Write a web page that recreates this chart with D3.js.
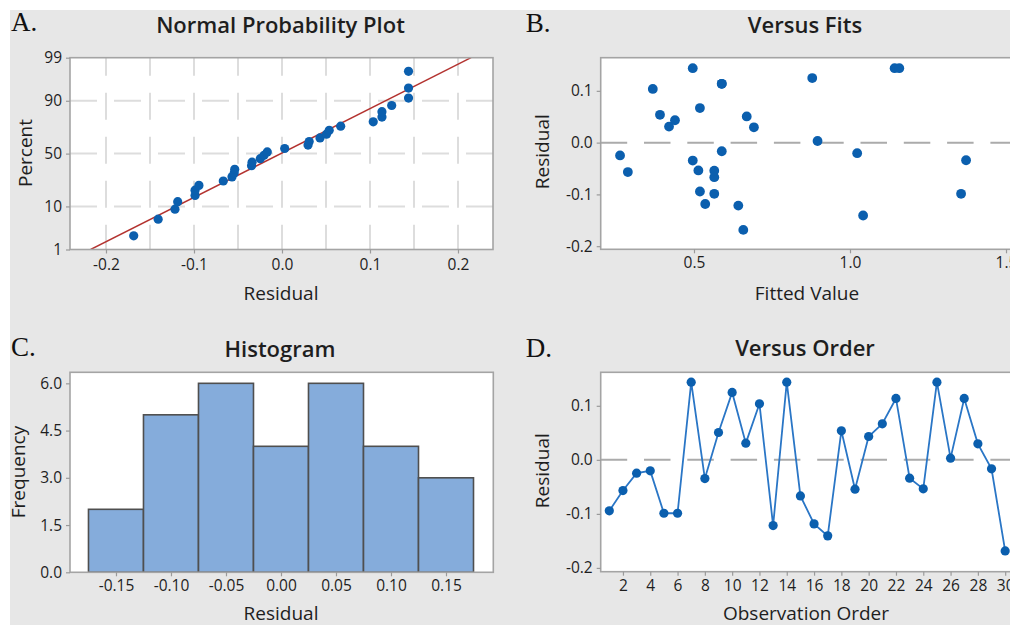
<!DOCTYPE html>
<html>
<head>
<meta charset="utf-8">
<script src="https://cdn.jsdelivr.net/npm/d3@7"></script>
<style>
  body { margin: 0; background: #fff; }
  svg text { font-family: "Open Sans", "Noto Sans", sans-serif; fill: #1e1e1e; }
  .panel-label { font-family: "Liberation Serif", "Times New Roman", serif; }
</style>
</head>
<body>
<svg id="chart" width="1010" height="625"></svg>
<script>
// Residuals in observation order (1..30)
const residuals = [
  -0.0944, -0.0568, -0.0247, -0.0204, -0.0988, -0.0988, 0.1438, -0.0346, 0.0506, 0.1247,
   0.0309,  0.1037, -0.1216,  0.1438, -0.0667, -0.1185, -0.1407, 0.0537, -0.0543, 0.0432,
   0.0667,  0.1136, -0.0340, -0.0537,  0.1438,  0.0031,  0.1136, 0.0296, -0.0167, -0.1685
];
// Fitted value for each observation
const fittedValues = [
  0.519, 0.288, 0.263, 1.023, 0.565, 1.356, 0.496, 0.496, 0.669, 0.879,
  0.420, 0.368, 0.642, 1.143, 0.565, 0.536, 1.042, 0.391, 0.565, 0.439,
  0.519, 0.589, 1.372, 0.514, 1.158, 0.896, 0.589, 0.692, 0.589, 0.658
];
// Histogram of residuals
const binCenters = [-0.15, -0.10, -0.05, 0.00, 0.05, 0.10, 0.15];
const binCounts  = [2, 5, 6, 4, 6, 4, 3];

// Tick values
const percentTicks   = [1, 10, 50, 90, 99];
const percentGrid    = [10, 50, 90];
const residualTicksA = [-0.2, -0.1, 0.0, 0.1, 0.2];
const residualGridA  = [-0.2, -0.15, -0.1, -0.05, 0.0, 0.05, 0.1, 0.15, 0.2];
const residTicksBD   = [-0.2, -0.1, 0.0, 0.1];
const fitTicks       = [0.5, 1.0, 1.5];
const freqTicks      = [0, 1.5, 3.0, 4.5, 6.0];
const histTicks      = [-0.15, -0.10, -0.05, 0.00, 0.05, 0.10, 0.15];
const orderTicks     = [2, 4, 6, 8, 10, 12, 14, 16, 18, 20, 22, 24, 26, 28, 30];

// Inverse standard normal CDF (Acklam's rational approximation)
function probit(p) {
  const a = [-3.969683028665376e+01, 2.209460984245205e+02, -2.759285104469687e+02, 1.383577518672690e+02, -3.066479806614716e+01, 2.506628277459239e+00];
  const b = [-5.447609879822406e+01, 1.615858368580409e+02, -1.556989798598866e+02, 6.680131188771972e+01, -1.328068155288572e+01];
  const c = [-7.784894002430293e-03, -3.223964580411365e-01, -2.400758277161838e+00, -2.549732539343734e+00, 4.374664141464968e+00, 2.938163982698783e+00];
  const d = [7.784695709041462e-03, 3.224671290700398e-01, 2.445134137142996e+00, 3.754408661907416e+00];
  const pl = 0.02425;
  if (p < pl) {
    const q = Math.sqrt(-2 * Math.log(p));
    return (((((c[0]*q+c[1])*q+c[2])*q+c[3])*q+c[4])*q+c[5]) / ((((d[0]*q+d[1])*q+d[2])*q+d[3])*q+1);
  }
  if (p > 1 - pl) {
    const q = Math.sqrt(-2 * Math.log(1 - p));
    return -(((((c[0]*q+c[1])*q+c[2])*q+c[3])*q+c[4])*q+c[5]) / ((((d[0]*q+d[1])*q+d[2])*q+d[3])*q+1);
  }
  const q = p - 0.5, r = q * q;
  return (((((a[0]*r+a[1])*r+a[2])*r+a[3])*r+a[4])*r+a[5])*q / (((((b[0]*r+b[1])*r+b[2])*r+b[3])*r+b[4])*r+1);
}

// Number formats that use a plain hyphen for negatives
const fmt = spec => { const f = d3.format(spec); return d => f(d).replace("\u2212", "-"); };

const svg = d3.select("#chart");
const DOT = "#0b5fae";
const FRAME = "#a4a4a4";

svg.append("rect").attr("x", 10).attr("y", 10).attr("width", 1000).attr("height", 615).attr("fill", "#e7e7e7");

const defs = svg.append("defs");
let clipId = 0;

function frame(x0, x1, y0, y1) {
  const id = "clip" + (clipId++);
  defs.append("clipPath").attr("id", id)
    .append("rect").attr("x", x0).attr("y", y0).attr("width", x1 - x0).attr("height", y1 - y0);
  svg.append("rect").attr("x", x0).attr("y", y0).attr("width", x1 - x0).attr("height", y1 - y0)
    .attr("fill", "#fff");
  return svg.append("g").attr("clip-path", `url(#${id})`);
}
function border(x0, x1, y0, y1) {
  svg.append("rect").attr("x", x0).attr("y", y0).attr("width", x1 - x0).attr("height", y1 - y0)
    .attr("fill", "none").attr("stroke", FRAME).attr("stroke-width", 1.6);
}
function styleAxis(g) {
  g.select(".domain").remove();
  g.selectAll(".tick line").attr("stroke", "#9a9a9a").attr("stroke-width", 1.2);
  g.selectAll(".tick text").attr("fill", "#1e1e1e").style("font-size", "15.5px");
}
function title(text, x, y) {
  svg.append("text").attr("x", x).attr("y", y).attr("text-anchor", "middle")
    .style("font-size", "22px").style("font-weight", 600).text(text);
}
function panelLabel(text, x, y) {
  svg.append("text").attr("class", "panel-label").attr("x", x).attr("y", y)
    .style("font-size", "27px").style("fill", "#111").text(text);
}
function xTitle(text, x, y) {
  svg.append("text").attr("x", x).attr("y", y).attr("text-anchor", "middle")
    .style("font-size", "19px").text(text);
}
function yTitle(text, x, y) {
  svg.append("text").attr("transform", `translate(${x},${y}) rotate(-90)`).attr("text-anchor", "middle")
    .style("font-size", "19px").text(text);
}

// ---------- A. Normal probability plot ----------
{
  const L = 70, R = 493, T = 57.7, B = 249.5;
  const x = d3.scaleLinear().domain([-0.2409, 0.2398]).range([L, R]);
  const y = d3.scaleLinear().domain([probit(0.01), probit(0.99)]).range([B, T]);
  const g = frame(L, R, T, B);

  g.selectAll(".vg").data(residualGridA).join("line")
    .attr("x1", d => x(d)).attr("x2", d => x(d)).attr("y1", T).attr("y2", B)
    .attr("stroke", "#dddddd").attr("stroke-width", 2)
    .attr("stroke-dasharray", "27,17").attr("stroke-dashoffset", 9);
  g.selectAll(".hg").data(percentGrid).join("line")
    .attr("x1", L).attr("x2", R).attr("y1", d => y(probit(d / 100))).attr("y2", d => y(probit(d / 100)))
    .attr("stroke", "#dddddd").attr("stroke-width", 2)
    .attr("stroke-dasharray", "27,17");

  // Fitted normal line
  const mu = d3.mean(residuals), sd = d3.deviation(residuals);
  const zLo = probit(0.01), zHi = probit(0.99);
  g.append("line")
    .attr("x1", x(mu + sd * zLo)).attr("y1", y(zLo))
    .attr("x2", x(mu + sd * zHi)).attr("y2", y(zHi))
    .attr("stroke", "#b3322f").attr("stroke-width", 1.4);

  // Points at median-rank plotting positions
  const n = residuals.length;
  const sorted = residuals.slice().sort(d3.ascending);
  g.selectAll(".pt").data(sorted).join("circle")
    .attr("cx", d => x(d)).attr("cy", (d, i) => y(probit((i + 1 - 0.3) / (n + 0.4))))
    .attr("r", 4.6).attr("fill", DOT);

  border(L, R, T, B);
  svg.append("g").attr("transform", `translate(${L},0)`)
    .call(d3.axisLeft(y).tickValues(percentTicks.map(p => probit(p / 100)))
      .tickFormat((d, i) => percentTicks[i]).tickSize(4).tickPadding(4))
    .call(styleAxis);
  svg.append("g").attr("transform", `translate(0,${B})`)
    .call(d3.axisBottom(x).tickValues(residualTicksA).tickFormat(fmt(".1f")).tickSize(4).tickPadding(5))
    .call(styleAxis);

  title("Normal Probability Plot", 280.5, 33.3);
  panelLabel("A.", 11, 30.7);
  xTitle("Residual", 281, 300);
  yTitle("Percent", 31.5, 153);
}

// ---------- B. Versus fits ----------
{
  const L = 600.7, R = 1012, T = 57.7, B = 249.3;
  const x = d3.scaleLinear().domain([0.2010, 1.5192]).range([L, R]);
  const y = d3.scaleLinear().domain([-0.206, 0.164]).range([B, T]);
  const g = frame(L, R, T, B);

  g.append("line").attr("x1", L).attr("x2", R).attr("y1", y(0)).attr("y2", y(0))
    .attr("stroke", "#ababab").attr("stroke-width", 2).attr("stroke-dasharray", "26.5,16.8");

  g.selectAll(".pt").data(residuals).join("circle")
    .attr("cx", (d, i) => x(fittedValues[i])).attr("cy", d => y(d))
    .attr("r", 4.9).attr("fill", DOT);

  border(L, R, T, B);
  svg.append("g").attr("transform", `translate(${L},0)`)
    .call(d3.axisLeft(y).tickValues(residTicksBD).tickFormat(fmt(".1f")).tickSize(4).tickPadding(4))
    .call(styleAxis);
  svg.append("g").attr("transform", `translate(0,${B})`)
    .call(d3.axisBottom(x).tickValues(fitTicks).tickFormat(fmt(".1f")).tickSize(4).tickPadding(4))
    .call(styleAxis);

  title("Versus Fits", 805, 33.3);
  panelLabel("B.", 525.7, 31.7);
  xTitle("Fitted Value", 807, 300);
  yTitle("Residual", 549, 151.7);
}

// ---------- C. Histogram ----------
{
  const L = 70, R = 493.3, T = 372.3, B = 572.3;
  const x = d3.scaleLinear().domain([-0.1918, 0.1930]).range([L, R]);
  const y = d3.scaleLinear().domain([0, 6.35]).range([B, T]);
  const binWidth = binCenters[1] - binCenters[0];
  const g = frame(L, R, T, B);

  g.selectAll(".bar").data(binCounts).join("rect")
    .attr("x", (d, i) => x(binCenters[i] - binWidth / 2))
    .attr("width", (d, i) => x(binCenters[i] + binWidth / 2) - x(binCenters[i] - binWidth / 2))
    .attr("y", d => y(d)).attr("height", d => y(0) - y(d))
    .attr("fill", "#85acdb").attr("stroke", "#4f4f4f").attr("stroke-width", 1.6);

  border(L, R, T, B);
  svg.append("g").attr("transform", `translate(${L},0)`)
    .call(d3.axisLeft(y).tickValues(freqTicks).tickFormat(fmt(".1f")).tickSize(4).tickPadding(4))
    .call(styleAxis);
  svg.append("g").attr("transform", `translate(0,${B})`)
    .call(d3.axisBottom(x).tickValues(histTicks).tickFormat(fmt(".2f")).tickSize(4).tickPadding(4))
    .call(styleAxis);

  title("Histogram", 280, 356.5);
  panelLabel("C.", 11, 356);
  xTitle("Residual", 281, 619.5);
  yTitle("Frequency", 25, 472);
}

// ---------- D. Versus order ----------
{
  const L = 600.7, R = 1012, T = 372.3, B = 571.7;
  const x = d3.scaleLinear().domain([0.370, 30.50]).range([L, R]);
  const y = d3.scaleLinear().domain([-0.207, 0.162]).range([B, T]);
  const order = d3.range(1, residuals.length + 1);
  const g = frame(L, R, T, B);

  g.append("line").attr("x1", L).attr("x2", R).attr("y1", y(0)).attr("y2", y(0))
    .attr("stroke", "#ababab").attr("stroke-width", 2).attr("stroke-dasharray", "26.5,16.8");

  g.append("path").datum(residuals)
    .attr("d", d3.line().x((d, i) => x(order[i])).y(d => y(d)))
    .attr("fill", "none").attr("stroke", "#2a76c6").attr("stroke-width", 1.8);

  g.selectAll(".pt").data(residuals).join("circle")
    .attr("cx", (d, i) => x(order[i])).attr("cy", d => y(d))
    .attr("r", 4.6).attr("fill", DOT);

  border(L, R, T, B);
  svg.append("g").attr("transform", `translate(${L},0)`)
    .call(d3.axisLeft(y).tickValues(residTicksBD).tickFormat(fmt(".1f")).tickSize(4).tickPadding(4))
    .call(styleAxis);
  svg.append("g").attr("transform", `translate(0,${B})`)
    .call(d3.axisBottom(x).tickValues(orderTicks).tickFormat(d3.format("d")).tickSize(4).tickPadding(4))
    .call(styleAxis);

  title("Versus Order", 805, 356);
  panelLabel("D.", 525.7, 356.7);
  xTitle("Observation Order", 806, 619.5);
  yTitle("Residual", 549, 470.7);
}
</script>
</body>
</html>
